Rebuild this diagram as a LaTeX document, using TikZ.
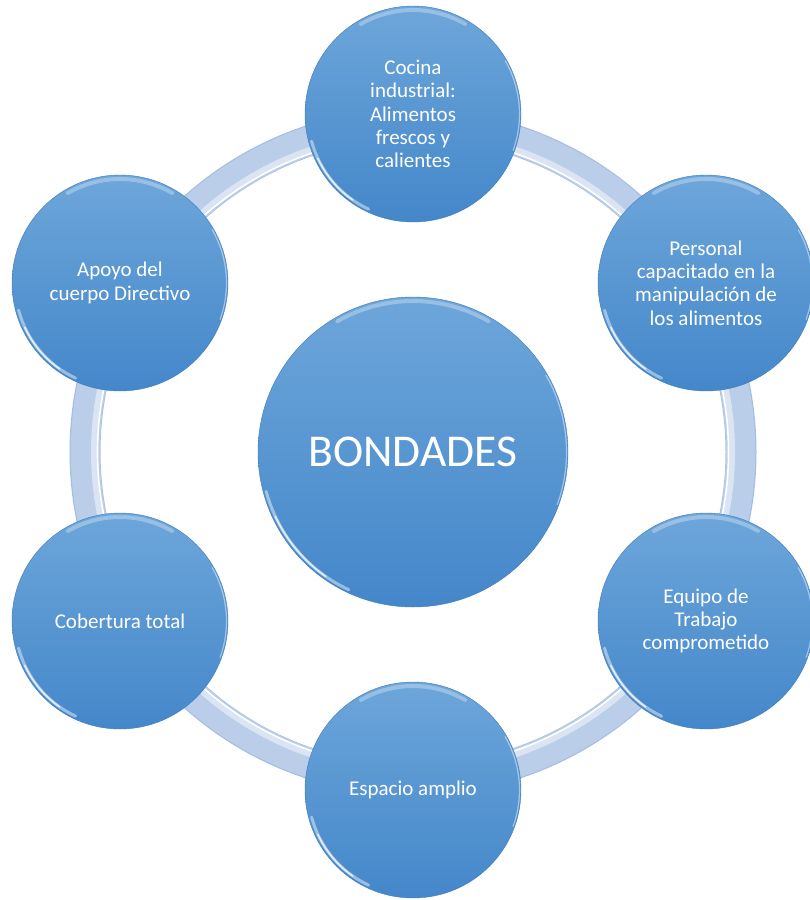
\documentclass[tikz,border=0pt]{standalone}
\usepackage{fontspec}
\setmainfont{Carlito}
\definecolor{ctop}{HTML}{6DA6DA}
\definecolor{cbot}{HTML}{4487CA}
\definecolor{ringc}{HTML}{BBCEE9}
\definecolor{ringedge}{HTML}{A6BFE1}
\tikzset{
  bubble/.style={circle, minimum size=#1, inner sep=0pt, top color=ctop, bottom color=cbot,
    draw=cbot!92!black, line width=0.4pt, text=white, align=center,
    font=\fontsize{21}{23.3}\selectfont},
  gloss/.style={white, line cap=round},
}
\begin{document}
\begin{tikzpicture}[x=1pt,y=1pt]
\useasboundingbox[fill=white] (0,0) rectangle (809,-900);
\coordinate (ctr) at (413,-452);
% ring
\draw[ringedge, line width=31pt] (ctr) circle[radius=328];
\draw[ringc, line width=28.5pt] (ctr) circle[radius=328];
\draw[ringc!55!white, line width=6pt] (ctr) circle[radius=319];
\draw[white, line width=1.6pt] (ctr) circle[radius=315.5];
\draw[ringedge!70!white, line width=0.6pt] (ctr) circle[radius=313.5];
% nodes
\node[bubble=310pt, font=\fontsize{45.5}{50}\selectfont] (c) at (ctr) {BONDADES};
\node[bubble=216pt] (n1) at (413,-114) {Cocina\\industrial:\\Alimentos\\frescos y\\calientes};
\node[bubble=216pt] (n2) at (706,-283) {Personal\\capacitado en la\\manipulación de\\los alimentos};
\node[bubble=216pt] (n3) at (706,-621) {Equipo de\\Trabajo\\comprometido};
\node[bubble=216pt] (n4) at (413,-790) {Espacio amplio};
\node[bubble=216pt] (n5) at (120,-621) {Cobertura total};
\node[bubble=216pt] (n6) at (120,-283) {Apoyo del\\cuerpo Directivo};
% gloss highlights
\foreach \nm/\r in {c/155,n1/108,n2/108,n3/108,n4/108,n5/108,n6/108}{
  \draw[gloss, opacity=0.3, line width=4pt] (\nm.center) ++(60:\r-4) arc[start angle=60, end angle=120, radius=\r-4];
  \draw[gloss, opacity=0.45, line width=3pt] (\nm.center) ++(195:\r-3) arc[start angle=195, end angle=245, radius=\r-3];
  \draw[gloss, opacity=0.75, line width=1.5pt] (\nm.center) ++(205:\r-3) arc[start angle=205, end angle=235, radius=\r-3];
  \draw[gloss, opacity=0.45, line width=1.2pt] (\nm.center) ++(-20:\r-1.5) arc[start angle=-20, end angle=30, radius=\r-1.5];
}
\end{tikzpicture}
\end{document}
